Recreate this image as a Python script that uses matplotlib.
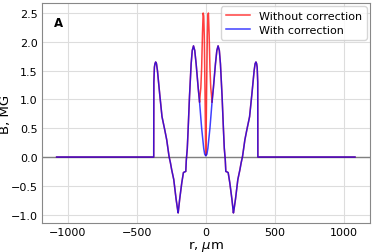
import matplotlib
matplotlib.use('Agg')
import matplotlib.pyplot as plt

# field profile, r in um, B in MG
r_blue = [-1080, -377, -376, -372, -368, -363, -357, -350, -334, -317, -297, -283,
          -266, -256, -247, -232, -215, -203, -200, -189, -174, -162, -155, -145,
          -141, -134, -128, -118, -106, -98, -89, -80, -70, -55, -45, -30, -15, -8,
          0,
          8, 15, 30, 45, 55, 70, 80, 89, 98, 106, 118, 128, 134, 141, 145, 155, 162,
          174, 189, 200, 203, 215, 232, 247, 256, 266, 283, 297, 317, 334, 350, 357,
          363, 368, 372, 376, 377, 1080]
b_blue = [0.0, 0.0, 1.30, 1.56, 1.62, 1.65, 1.62, 1.50, 1.10, 0.70, 0.47, 0.30,
          0.01, -0.10, -0.22, -0.39, -0.73, -0.93, -0.97, -0.73, -0.45, -0.27, -0.26, -0.25,
          -0.05, 0.15, 0.47, 1.05, 1.62, 1.85, 1.93, 1.85, 1.62, 1.20, 0.95, 0.50, 0.15, 0.05,
          0.02,
          0.05, 0.15, 0.50, 0.95, 1.20, 1.62, 1.85, 1.93, 1.85, 1.62, 1.05, 0.47, 0.15, -0.05,
          -0.25, -0.26, -0.27, -0.45, -0.73, -0.97, -0.93, -0.73, -0.39, -0.22, -0.10, 0.01,
          0.30, 0.47, 0.70, 1.10, 1.50, 1.62, 1.65, 1.62, 1.56, 1.30, 0.0, 0.0]

# uncorrected profile differs only in the centre
r_red_core = [-45, -41, -36, -30, -24, -19, -15, -11, -6, -2, 0, 2, 6, 11, 15, 19, 24,
              30, 36, 41, 45]
b_red_core = [0.95, 1.08, 1.20, 1.55, 2.15, 2.50, 2.45, 2.10, 1.20, 0.30, 0.03, 0.30,
              1.20, 2.10, 2.45, 2.50, 2.15, 1.55, 1.20, 1.08, 0.95]

r_red = [r for r in r_blue if r < -45] + r_red_core + [r for r in r_blue if r > 45]
b_red = ([b for r, b in zip(r_blue, b_blue) if r < -45] + b_red_core
         + [b for r, b in zip(r_blue, b_blue) if r > 45])

fig = plt.figure(figsize=(3.74, 2.53), dpi=100)
ax = fig.add_axes([0.1115, 0.115, 0.8775, 0.869])

ax.axhline(0, color='gray', lw=1, zorder=1)
ax.plot(r_red, b_red, color='red', alpha=0.75, lw=1.1, label='Without correction', zorder=2)
ax.plot(r_blue, b_blue, color='blue', alpha=0.75, lw=1.1, label='With correction', zorder=3)

ax.set_xlabel(r'r, $\mu$m', fontsize=9.5, labelpad=1)
ax.set_ylabel('B, MG', fontsize=9.5)
ax.yaxis.set_label_coords(-0.09, 0.5)
ax.tick_params(labelsize=8, length=0, pad=3)
ax.set_xticks([-1000, -500, 0, 500, 1000])
ax.set_yticks([-1.0, -0.5, 0.0, 0.5, 1.0, 1.5, 2.0, 2.5])
ax.grid(True, color='#dddddd', lw=0.8)
ax.set_axisbelow(True)
for s in ax.spines.values():
    s.set_color('#888888')

ax.text(0.037, 0.91, 'A', transform=ax.transAxes, fontsize=8.5, fontweight='bold',
        ha='left', va='center')
ax.legend(loc='upper right', fontsize=8, handlelength=2.2, borderaxespad=0.3,
          borderpad=0.4, labelspacing=0.4, fancybox=True)

plt.savefig('out.png', dpi=100)
plt.close()
